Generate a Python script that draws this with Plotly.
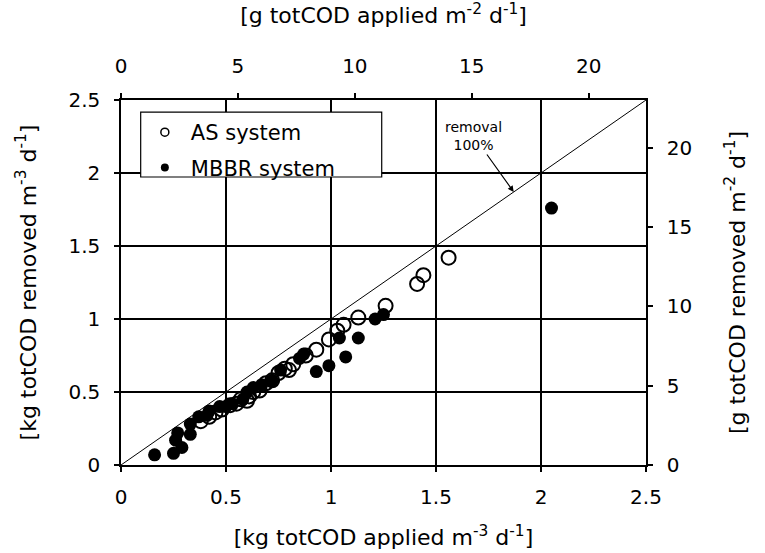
import plotly.graph_objects as go

# ---- data ----
as_x = [0.38, 0.42, 0.45, 0.48, 0.52, 0.55, 0.57, 0.60, 0.61, 0.63, 0.66, 0.69, 0.72, 0.75,
        0.78, 0.80, 0.82, 0.88, 0.93, 0.99, 1.03, 1.06, 1.13, 1.26, 1.41, 1.44, 1.56]
as_y = [0.30, 0.33, 0.36, 0.38, 0.41, 0.42, 0.45, 0.44, 0.47, 0.50, 0.51, 0.56, 0.58, 0.63,
        0.66, 0.65, 0.69, 0.75, 0.79, 0.86, 0.92, 0.96, 1.01, 1.09, 1.24, 1.30, 1.42]

mbbr_x = [0.16, 0.25, 0.29, 0.26, 0.27, 0.33, 0.33, 0.37, 0.41, 0.42, 0.47, 0.50, 0.53, 0.58,
          0.60, 0.63, 0.67, 0.72, 0.76, 0.85, 0.87, 0.93, 0.99, 1.04, 1.07, 1.13, 1.21, 1.25, 2.05]
mbbr_y = [0.07, 0.08, 0.12, 0.17, 0.22, 0.21, 0.28, 0.33, 0.34, 0.37, 0.40, 0.40, 0.42, 0.45,
          0.50, 0.53, 0.55, 0.58, 0.65, 0.73, 0.76, 0.64, 0.68, 0.87, 0.74, 0.87, 1.00, 1.03, 1.76]

line_x = [0, 2.5]
line_y = [0, 2.5]

bottom_ticks = [0, 0.5, 1, 1.5, 2, 2.5]
left_ticks = [0, 0.5, 1, 1.5, 2, 2.5]
top_ticks = [0, 5, 10, 15, 20]
right_ticks = [0, 5, 10, 15, 20]
top_range = [0, 22.45]
right_range = [0, 23.0]

FONT = "DejaVu Sans, Liberation Sans, Arial, sans-serif"

fig = go.Figure()
fig.add_trace(go.Scatter(x=line_x, y=line_y, mode="lines",
                         line=dict(color="black", width=1), showlegend=False, hoverinfo="skip"))
fig.add_trace(go.Scatter(x=as_x, y=as_y, mode="markers", name="AS system", showlegend=False,
                         marker=dict(symbol="circle-open", size=14, color="black",
                                     line=dict(width=2, color="black"))))
fig.add_trace(go.Scatter(x=mbbr_x, y=mbbr_y, mode="markers", name="MBBR system", showlegend=False,
                         marker=dict(symbol="circle", size=13, color="black")))
# legend entries (small symbols as in the original legend)
fig.add_trace(go.Scatter(x=[None], y=[None], mode="markers", name="AS system",
                         legendgroup="a",
                         marker=dict(symbol="circle-open", size=8, color="black",
                                     line=dict(width=1.5, color="black"))))
fig.add_trace(go.Scatter(x=[None], y=[None], mode="markers", name="MBBR system",
                         legendgroup="b",
                         marker=dict(symbol="circle", size=8, color="black")))
# invisible trace to anchor secondary axes
fig.add_trace(go.Scatter(x=[top_range[0]], y=[right_range[0]], xaxis="x2", yaxis="y2",
                         mode="markers", marker=dict(opacity=0), showlegend=False, hoverinfo="skip"))

axis_common = dict(showline=True, linecolor="black", linewidth=1.5, ticks="outside",
                   ticklen=5, tickcolor="black", tickwidth=1.5, zeroline=False,
                   automargin=False,
                   tickfont=dict(size=20, color="black", family=FONT))

fig.update_layout(
    width=765, height=553,
    margin=dict(l=121, r=119, t=100, b=88, autoexpand=False),
    paper_bgcolor="white", plot_bgcolor="white",
    font=dict(family=FONT, color="black", size=20),
    xaxis=dict(range=[0, 2.5], tickvals=bottom_ticks, ticktext=[str(t) for t in bottom_ticks],
               showgrid=True, gridcolor="black", gridwidth=1.5, ticklabelstandoff=8,
               title=dict(text="[kg totCOD applied m<sup>-3</sup> d<sup>-1</sup>]",
                          font=dict(size=22), standoff=22),
               **axis_common),
    yaxis=dict(range=[0, 2.5], tickvals=left_ticks, ticktext=[str(t) for t in left_ticks],
               showgrid=True, gridcolor="black", gridwidth=1.5, ticklabelstandoff=10,
               title=dict(text="[kg totCOD removed m<sup>-3</sup> d<sup>-1</sup>]",
                          font=dict(size=22), standoff=26),
               **axis_common),
    xaxis2=dict(range=top_range, tickvals=top_ticks, overlaying="x", side="top",
                showgrid=False, anchor="y", ticklabelstandoff=12,
                title=dict(text="[g totCOD applied m<sup>-2</sup> d<sup>-1</sup>]",
                           font=dict(size=22), standoff=26),
                **axis_common),
    yaxis2=dict(range=right_range, tickvals=right_ticks, overlaying="y", side="right",
                showgrid=False, anchor="x", ticklabelstandoff=10,
                title=dict(text="[g totCOD removed m<sup>-2</sup> d<sup>-1</sup>]",
                           font=dict(size=22), standoff=38),
                **axis_common),
    legend=dict(x=0.034, y=0.967, xanchor="left", yanchor="top",
                bgcolor="rgba(0,0,0,0)", borderwidth=0,
                font=dict(size=21, family=FONT), itemsizing="trace",
                tracegroupgap=5, itemwidth=42),
    showlegend=True,
    shapes=[dict(type="rect", xref="paper", yref="paper",
                 x0=0.0375, x1=0.4966, y0=0.789, y1=0.967,
                 line=dict(color="black", width=1.2), fillcolor="white", layer="above")],
)

fig.add_annotation(x=1.87, y=1.87, xref="x", yref="y",
                   text="removal<br>100%", showarrow=True, arrowhead=2, arrowsize=1,
                   arrowwidth=1.2, arrowcolor="black", ax=-40, ay=-56,
                   font=dict(size=14, family=FONT, color="black"))

fig.write_html("out.html")
